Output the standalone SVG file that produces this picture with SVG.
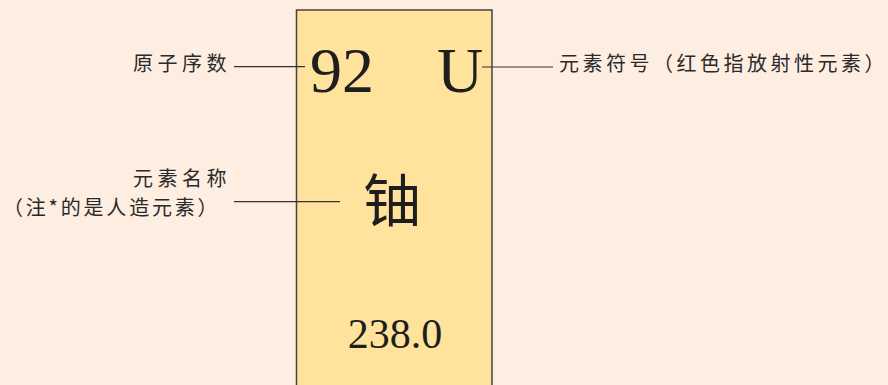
<svg xmlns="http://www.w3.org/2000/svg" width="888" height="385" viewBox="0 0 888 385">
<style>
.lbl{font-family:"Noto Sans CJK SC","Noto Sans",sans-serif;font-size:20px;fill:#2a2a2a;letter-spacing:4.5px}
.num{font-family:"Liberation Serif","Times New Roman",serif;fill:#1e1e1e}
.cjk{font-family:"Noto Sans CJK SC",serif;fill:#1e1e1e}
.ln{stroke:#333;stroke-width:1.2;fill:none}
</style>
<rect width="888" height="385" fill="#FDEEE1"/>
<g id="element-card">
<rect x="296.5" y="10" width="195.5" height="380" fill="#FFE29B" stroke="#444" stroke-width="1.5"/>
<text class="num" x="310" y="92" font-size="64">92</text>
<text class="num" x="437" y="92" font-size="64">U</text>
<text class="cjk" x="392" y="222" font-size="58" text-anchor="middle">铀</text>
<text class="num" x="395" y="348" font-size="42" text-anchor="middle">238.0</text>
</g>
<g id="label-atomic-number">
<text class="lbl" x="133" y="70.5">原子序数</text>
</g>
<g id="label-symbol">
<text class="lbl" x="559" y="70.5" style="letter-spacing:3.5px">元素符号（红色指放射性元素）</text>
</g>
<g id="label-name">
<text class="lbl" x="133" y="185.5">元素名称</text>
<text class="lbl" x="3" y="214.5" style="letter-spacing:2.8px">（注*的是人造元素）</text>
</g>
<g id="connectors">
<line class="ln" x1="234" y1="66.7" x2="305" y2="66.7"/>
<line class="ln" x1="482" y1="67" x2="553" y2="67"/>
<line class="ln" x1="234" y1="201.7" x2="340" y2="201.7"/>
</g>
</svg>
